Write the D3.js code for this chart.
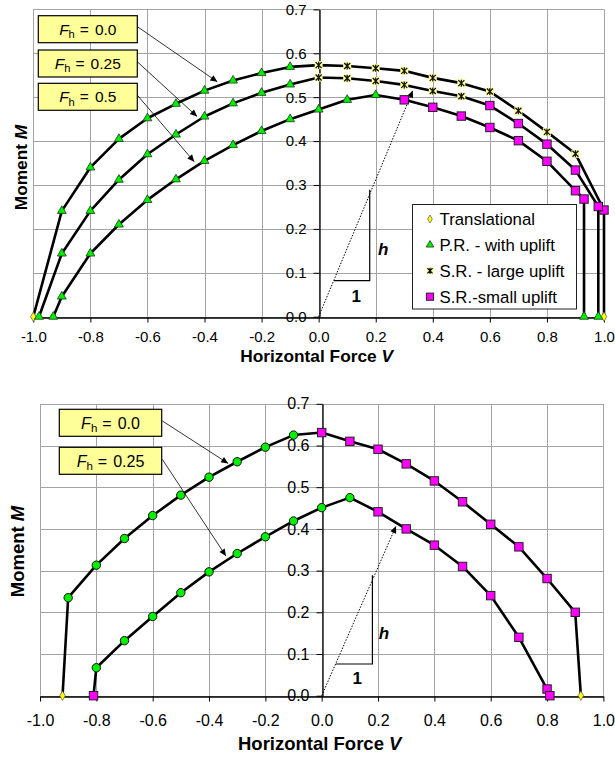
<!DOCTYPE html>
<html><head><meta charset="utf-8">
<script src="https://cdn.jsdelivr.net/npm/d3@7"></script>
<style>
html,body{margin:0;padding:0;background:#fff;}
svg{display:block;font-family:"Liberation Sans",Arial,sans-serif;}
</style></head>
<body>
<svg id="chart" width="615" height="757"></svg>
<script>
// ---------------- DATA ----------------
const xTicks = [-1.0,-0.8,-0.6,-0.4,-0.2,0.0,0.2,0.4,0.6,0.8,1.0];
const yTicks = [0.0,0.1,0.2,0.3,0.4,0.5,0.6,0.7];
const xTitle = "Horizontal Force ";
const xTitleVar = "V";
const yTitle = "Moment ";
const yTitleVar = "M";

// marker codes: D=Translational, T=P.R. with uplift, X=S.R. large uplift, S=S.R. small uplift, C=circle
// Top chart
const topV_F00 = [-1.0,-0.9,-0.8,-0.7,-0.6,-0.5,-0.4,-0.3,-0.2,-0.1,0.0,0.1,0.2,0.3,0.4,0.5,0.6,0.7,0.8,0.9,1.0,1.0];
const topM_F00 = [0,0.241,0.340,0.405,0.452,0.485,0.515,0.538,0.555,0.569,0.573,0.571,0.566,0.560,0.544,0.532,0.513,0.469,0.421,0.371,0.243,0];
const topK_F00 = ["D","T","T","T","T","T","T","T","T","T","X","X","X","X","X","X","X","X","X","X","S","D"];

const topV_F025 = [-0.98,-0.9,-0.8,-0.7,-0.6,-0.5,-0.4,-0.3,-0.2,-0.1,0.0,0.1,0.2,0.3,0.4,0.5,0.6,0.7,0.8,0.9,0.98,0.98];
const topM_F025 = [0,0.144,0.241,0.312,0.370,0.415,0.456,0.486,0.510,0.529,0.545,0.543,0.537,0.528,0.514,0.502,0.481,0.440,0.393,0.334,0.251,0];
const topK_F025 = ["T","T","T","T","T","T","T","T","T","T","X","X","X","X","X","X","S","S","S","S","S","T"];

const topV_F05 = [-0.93,-0.9,-0.8,-0.7,-0.6,-0.5,-0.4,-0.3,-0.2,-0.1,0.0,0.1,0.2,0.3,0.4,0.5,0.6,0.7,0.8,0.9,0.93,0.93];
const topM_F05 = [0,0.046,0.144,0.210,0.266,0.313,0.355,0.391,0.423,0.450,0.472,0.494,0.505,0.494,0.477,0.457,0.431,0.401,0.354,0.287,0.268,0];
const topK_F05 = ["T","T","T","T","T","T","T","T","T","T","T","T","T","S","S","S","S","S","S","S","S","T"];

// Bottom chart
const botV_F00 = [-0.92,-0.9,-0.8,-0.7,-0.6,-0.5,-0.4,-0.3,-0.2,-0.1,0.0,0.1,0.2,0.3,0.4,0.5,0.6,0.7,0.8,0.9,0.92];
const botM_F00 = [0,0.235,0.313,0.377,0.432,0.481,0.524,0.561,0.596,0.625,0.631,0.610,0.591,0.556,0.515,0.465,0.411,0.357,0.281,0.200,0];
const botK_F00 = ["D","C","C","C","C","C","C","C","C","C","S","S","S","S","S","S","S","S","S","S","D"];

const botV_F025 = [-0.81,-0.8,-0.7,-0.6,-0.5,-0.4,-0.3,-0.2,-0.1,0.0,0.1,0.2,0.3,0.4,0.5,0.6,0.7,0.8,0.81];
const botM_F025 = [0,0.067,0.132,0.190,0.247,0.297,0.341,0.381,0.419,0.451,0.475,0.441,0.400,0.361,0.310,0.240,0.140,0.016,0];
const botK_F025 = ["S","C","C","C","C","C","C","C","C","C","C","S","S","S","S","S","S","S","S"];

const topLabels = ["0.0","0.25","0.5"];
const botLabels = ["0.0","0.25"];
const legendNames = ["Translational","P.R. - with uplift","S.R. - large uplift","S.R.-small uplift"];
const legendKinds = ["D","T","X","S"];

// ---------------- DRAW ----------------
const svg = d3.select("#chart");
const fmt = d3.formatLocale({decimal:".", thousands:",", grouping:[3], currency:["",""], minus:"-"}).format(".1f");

function drawMarker(g, kind, x, y, scale) {
  const s = scale || 1;
  if (kind === "T") {
    g.append("path").attr("transform",`translate(${x},${y})`)
      .attr("d", d3.symbol(d3.symbolTriangle, 34*s*s)())
      .attr("fill","#00ee00").attr("stroke","#1a3a1a").attr("stroke-width",0.8);
  } else if (kind === "S") {
    const h = 4.2*s;
    g.append("rect").attr("x",x-h).attr("y",y-h).attr("width",2*h).attr("height",2*h)
      .attr("fill","#ff00ff").attr("stroke","#222").attr("stroke-width",1);
  } else if (kind === "D") {
    g.append("path").attr("transform",`translate(${x},${y})`)
      .attr("d", d3.symbol(d3.symbolDiamond, 26*s*s)())
      .attr("fill","#ffff00").attr("stroke","#555").attr("stroke-width",0.7);
  } else if (kind === "C") {
    g.append("circle").attr("cx",x).attr("cy",y).attr("r",4.2*s)
      .attr("fill","#00ee00").attr("stroke","#111").attr("stroke-width",1);
  } else if (kind === "X") {
    const h = 4*s;
    g.append("rect").attr("x",x-h).attr("y",y-h).attr("width",2*h).attr("height",2*h)
      .attr("fill","#ffff99").attr("stroke","none");
    const a = 3*s;
    g.append("path").attr("d",`M${x-a},${y-a}L${x+a},${y+a}M${x-a},${y+a}L${x+a},${y-a}M${x},${y-a-0.5}L${x},${y+a+0.5}`)
      .attr("stroke","#111").attr("stroke-width",1.3).attr("fill","none");
  }
}

svg.append("defs").append("marker").attr("id","arr").attr("viewBox","0 0 10 10")
  .attr("refX",10).attr("refY",5).attr("markerWidth",9).attr("markerHeight",7)
  .attr("markerUnits","userSpaceOnUse").attr("orient","auto")
  .append("path").attr("d","M0,0.5L10,5L0,9.5z").attr("fill","#000");

function fhLabel(g, x, y, w, h, val, fs) {
  g.append("rect").attr("x",x).attr("y",y).attr("width",w).attr("height",h)
    .attr("fill","#ffff99").attr("stroke","#000").attr("stroke-width",1.2);
  const t = g.append("text").attr("x",x+w/2).attr("y",y+h/2+fs*0.36)
    .attr("text-anchor","middle").attr("font-size",fs);
  t.append("tspan").attr("font-style","italic").text("F");
  t.append("tspan").attr("font-size",fs*0.72).attr("dy",fs*0.22).text("h");
  t.append("tspan").attr("dy",-fs*0.22).attr("dx",5).text("=");
  t.append("tspan").attr("dx",6).text(val);
}

function chart(cfg) {
  const x = d3.scaleLinear().domain([-1,1]).range([cfg.left, cfg.right]);
  const y = d3.scaleLinear().domain([0,0.7]).range([cfg.bottom, cfg.top]);
  const g = svg.append("g");

  // grid
  g.append("g").selectAll("line").data(xTicks).join("line")
    .attr("x1",d=>Math.round(x(d))+0.5).attr("x2",d=>Math.round(x(d))+0.5)
    .attr("y1",y(0.7)).attr("y2",y(0))
    .attr("stroke","#a3a3a3").attr("stroke-width",1);
  g.append("g").selectAll("line").data(yTicks).join("line")
    .attr("y1",d=>Math.round(y(d))+0.5).attr("y2",d=>Math.round(y(d))+0.5)
    .attr("x1",x(-1)).attr("x2",x(1))
    .attr("stroke","#a3a3a3").attr("stroke-width",1);

  // axes
  const xa = g.append("g").attr("transform",`translate(0,${Math.round(y(0))+0.5})`)
    .call(d3.axisBottom(x).tickValues(xTicks).tickFormat(fmt).tickSize(5).tickSizeOuter(0).tickPadding(cfg.xPad));
  xa.select(".domain").attr("stroke","#000").attr("stroke-width",1.3);
  xa.selectAll(".tick line").attr("stroke","#000");
  xa.selectAll("text").attr("font-size",cfg.tickFs).attr("font-family","Liberation Sans, Arial, sans-serif").attr("fill","#000");

  const ya = g.append("g").attr("transform",`translate(${Math.round(x(0))+0.5},0)`)
    .call(d3.axisLeft(y).tickValues(yTicks).tickFormat(fmt).tickSize(6).tickSizeOuter(0).tickPadding(7));
  ya.select(".domain").attr("stroke","#000").attr("stroke-width",1.3);
  ya.selectAll(".tick line").attr("stroke","#000");
  ya.selectAll("text").attr("font-size",cfg.tickFs).attr("font-family","Liberation Sans, Arial, sans-serif").attr("fill","#000");

  // titles
  const xt = g.append("text").attr("x",x(0)-2).attr("y",cfg.xTitleY).attr("text-anchor","middle")
    .attr("font-weight","bold").attr("font-size",cfg.titleFs);
  xt.append("tspan").text(xTitle);
  xt.append("tspan").attr("font-style","italic").text(xTitleVar);
  const yt = g.append("text").attr("transform",`translate(${cfg.yTitleX},${cfg.yTitleY}) rotate(-90)`)
    .attr("text-anchor","middle").attr("font-weight","bold").attr("font-size",cfg.titleFs);
  yt.append("tspan").text(yTitle);
  yt.append("tspan").attr("font-style","italic").text(yTitleVar);

  // annotation triangle + dotted arrow
  const an = cfg.ann;
  g.append("line").attr("x1",x(0)).attr("y1",y(0)).attr("x2",x(an.arrV)).attr("y2",y(an.arrM))
    .attr("stroke","#000").attr("stroke-width",1).attr("stroke-dasharray","1.5,1.5").attr("marker-end","url(#arr)");
  g.append("path").attr("d",`M${x(an.triV0)},${y(an.triM0)}L${x(an.triV1)},${y(an.triM0)}L${x(an.triV1)},${y(an.triM1)}`)
    .attr("fill","none").attr("stroke","#000").attr("stroke-width",1.2);
  g.append("text").attr("x",x(an.hV)).attr("y",y(an.hM)).attr("font-size",cfg.annFs).attr("font-weight","bold")
    .attr("font-style","italic").attr("text-anchor","middle").attr("dy","0.35em").text("h");
  g.append("text").attr("x",x(an.oneV)).attr("y",y(an.oneM)).attr("font-size",cfg.annFs).attr("font-weight","bold")
    .attr("text-anchor","middle").attr("dy","0.35em").text("1");

  // curves
  const line = d3.line().x(d=>x(d[0])).y(d=>y(d[1]));
  cfg.curves.forEach(c => {
    const pts = c.V.map((v,i)=>[v, c.M[i]]);
    g.append("path").attr("d", line(pts)).attr("fill","none").attr("stroke","#000")
      .attr("stroke-width",2.6).attr("stroke-linejoin","round");
  });
  cfg.curves.forEach(c => {
    c.V.forEach((v,i)=> drawMarker(g, c.K[i], x(v), y(c.M[i]), 1));
  });

  // Fh labels with arrows
  cfg.labels.forEach((lab,i) => {
    const a = cfg.labelArrows[i];
    g.append("line").attr("x1",x(a[0])).attr("y1",y(a[1])).attr("x2",x(a[2])).attr("y2",y(a[3]))
      .attr("stroke","#000").attr("stroke-width",0.8).attr("marker-end","url(#arr)");
    fhLabel(g, cfg.boxX, cfg.boxY[i], cfg.boxW, cfg.boxH, lab, cfg.boxFs);
  });
  return {g,x,y};
}

// Top chart
const topChart = chart({
  left:33.3, right:604, top:9.4, bottom:316.7, tickFs:15, titleFs:17.3, annFs:17, xPad:9,
  xTitleY:361.5, yTitleX:26.5, yTitleY:167.5,
  ann:{arrV:0.33, arrM:0.515, triV0:0.054, triV1:0.179, triM0:0.082, triM1:0.289, hV:0.226, hM:0.154, oneV:0.132, oneM:0.046},
  curves:[{V:topV_F00,M:topM_F00,K:topK_F00},{V:topV_F025,M:topM_F025,K:topK_F025},{V:topV_F05,M:topM_F05,K:topK_F05}],
  labels: topLabels,
  labelArrows: [[-0.636,0.661,-0.355,0.535],[-0.636,0.581,-0.426,0.456],[-0.636,0.505,-0.436,0.353]],
  boxX:38.3, boxY:[15.7,50,83.3], boxW:99, boxH:27, boxFs:15.5
});

// legend (top chart)
const lg = topChart.g.append("g");
lg.append("rect").attr("x",412.5).attr("y",204.5).attr("width",164).attr("height",104.5)
  .attr("fill","#fff").attr("stroke","#222").attr("stroke-width",1);
legendNames.forEach((nm,i) => {
  const cy = 219 + i*25.9;
  drawMarker(lg, legendKinds[i], 430, cy, 0.85);
  lg.append("text").attr("x",439.5).attr("y",cy).attr("dy","0.36em").attr("font-size",16.8).text(nm);
});

// Bottom chart
const bottomChart = chart({
  left:40, right:603.4, top:403.8, bottom:695.7, tickFs:16, titleFs:18.5, annFs:17, xPad:13,
  xTitleY:750, yTitleX:23.5, yTitleY:551.5,
  ann:{arrV:0.264, arrM:0.407, triV0:0.05, triV1:0.18, triM0:0.076, triM1:0.289, hV:0.221, hM:0.150, oneV:0.126, oneM:0.042},
  curves:[{V:botV_F00,M:botM_F00,K:botK_F00},{V:botV_F025,M:botM_F025,K:botK_F025}],
  labels: botLabels,
  labelArrows: [[-0.566,0.659,-0.332,0.557],[-0.566,0.567,-0.340,0.335]],
  boxX:59.3, boxY:[409.3,447.3], boxW:102.4, boxH:27, boxFs:16
});
</script>
</body></html>
